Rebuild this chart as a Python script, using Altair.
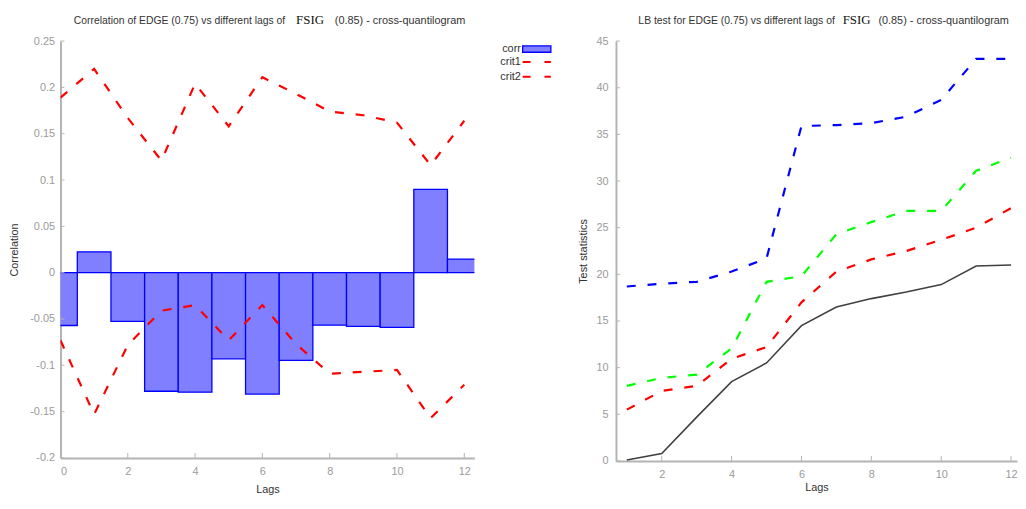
import altair as alt
import pandas as pd

# ---------------- data ----------------
lags_left = list(range(0, 13))
corr = [-0.057, 0.0225, -0.0525, -0.128, -0.129, -0.093, -0.131, -0.0946,
        -0.0567, -0.058, -0.059, 0.090, 0.0147]
crit1 = [0.189, 0.220, 0.167, 0.121, 0.204, 0.158, 0.211, 0.193, 0.174,
         0.170, 0.162, 0.116, 0.164]
crit2 = [-0.073, -0.153, -0.078, -0.041, -0.035, -0.073, -0.035, -0.077,
         -0.109, -0.107, -0.105, -0.157, -0.121]

lags_right = list(range(1, 13))
lb_stat = [0.1, 0.8, 4.7, 8.5, 10.5, 14.5, 16.5, 17.4, 18.1, 18.9, 20.9, 21.0]
cv_red = [5.5, 7.5, 8.05, 10.95, 12.2, 17.0, 20.3, 21.6, 22.5, 23.7, 25.0, 27.1]
cv_green = [8.05, 8.9, 9.25, 12.05, 19.2, 19.8, 24.3, 25.6, 26.8, 26.8, 31.1, 32.5]
cv_blue = [18.7, 19.0, 19.2, 20.3, 21.7, 35.9, 36.0, 36.2, 36.9, 38.7, 43.1, 43.1]

left_yticks = [-0.2, -0.15, -0.1, -0.05, 0, 0.05, 0.1, 0.15, 0.2, 0.25]
left_xticks = [0, 2, 4, 6, 8, 10, 12]
right_yticks = [0, 5, 10, 15, 20, 25, 30, 35, 40, 45]
right_xticks = [2, 4, 6, 8, 10, 12]

left_title = ["Correlation of EDGE (0.75) vs different lags of", "FSIG", "(0.85) - cross-quantilogram"]
right_title = ["LB test for EDGE (0.75) vs different lags of", "FSIG", "(0.85) - cross-quantilogram"]

bar_names = ["corr"]
crit_names = ["crit1", "crit2"]
right_names = ["LB", "cv1", "cv2", "cv3"]

# ---------------- style ----------------
FONT = "Liberation Sans"
SERIF = "Liberation Serif"
AX_COLOR = "#b4b4b4"
LAB_COLOR = "#9a9a9a"
TXT_COLOR = "#333333"
DASH = [9, 12]

LW, LH = 418, 421
RW, RH = 405, 424

# ---------------- left panel ----------------
df_bar = pd.DataFrame({"lag": lags_left, "value": corr, "series": "corr"})
df_crit = pd.concat([
    pd.DataFrame({"lag": lags_left, "value": crit1, "series": "crit1"}),
    pd.DataFrame({"lag": lags_left, "value": crit2, "series": "crit2"}),
])

lx = alt.Scale(domain=[0, 12.3], nice=False, zero=False)
ly = alt.Scale(domain=[-0.2, 0.25], nice=False, zero=False)

x_axis_left = alt.Axis(values=left_xticks, tickSize=0, domainColor=AX_COLOR, domainWidth=2,
                       labelColor=LAB_COLOR, labelFont=FONT, labelFontSize=11,
                       labelPadding=14, labelBaseline="middle", grid=False,
                       title="Lags", titleColor=TXT_COLOR, titleFont=FONT, titleFontSize=11,
                       titleFontWeight="normal", titleY=32, titleBaseline="middle")
y_axis_left = alt.Axis(values=left_yticks, tickSize=0, domainColor=AX_COLOR, domainWidth=2,
                       labelColor=LAB_COLOR, labelFont=FONT, labelFontSize=11,
                       labelPadding=6, grid=False,
                       labelExpr="replace(format(datum.value, '~g'), '\u2212', '-')",
                       title="Correlation", titleColor=TXT_COLOR, titleFont=FONT, titleFontSize=11,
                       titleFontWeight="normal", titleX=-46, titleY=LH / 2, titleBaseline="middle")

legend_common = dict(title=None, orient="none", legendX=466, direction="vertical",
                     symbolSize=100, padding=0, rowPadding=4, labelFont=FONT,
                     labelFontSize=11, labelColor=TXT_COLOR, labelAlign="right",
                     labelOffset={"expr": "-22"}, symbolOffset=9)

bars = alt.Chart(df_bar).transform_calculate(
    x0="datum.lag - 0.5", x1="datum.lag + 0.5"
).mark_bar(stroke="#0000ff", strokeWidth=1.3, clip=True).encode(
    x=alt.X("x0:Q", scale=lx, axis=x_axis_left),
    x2="x1:Q",
    y=alt.Y("value:Q", scale=ly, axis=y_axis_left),
    y2=alt.datum(0),
    fill=alt.Fill("series:N", scale=alt.Scale(domain=bar_names, range=["#7f7fff"]),
                  legend=alt.Legend(legendY=2, symbolType="M-2.85,-0.65H2.85V0.65H-2.85Z",
                                    symbolFillColor="#7f7fff", symbolStrokeColor="#0000ff",
                                    symbolStrokeWidth=1.3, symbolOpacity=1, **legend_common)),
)

crit_lines = alt.Chart(df_crit).mark_line(strokeDash=DASH, strokeWidth=2.2, clip=True).encode(
    x=alt.X("lag:Q", scale=lx),
    y=alt.Y("value:Q", scale=ly),
    stroke=alt.Stroke("series:N", scale=alt.Scale(domain=crit_names, range=["#ff0000", "#ff0000"]),
                      legend=alt.Legend(legendY=15, symbolType="M-2.85,0H2.85",
                                        symbolDash=[8, 14], symbolStrokeWidth=2,
                                        symbolStrokeColor="#ff0000", symbolOpacity=1,
                                        **legend_common)),
)

ly_ticks = alt.Chart(pd.DataFrame({"v": left_yticks})).mark_rule(color=AX_COLOR, strokeWidth=1).encode(
    y=alt.Y("v:Q", scale=ly), x=alt.value(0), x2=alt.value(4))
lx_ticks = alt.Chart(pd.DataFrame({"v": left_xticks})).mark_rule(color=AX_COLOR, strokeWidth=1).encode(
    x=alt.X("v:Q", scale=lx), y=alt.value(LH), y2=alt.value(LH - 5))


def title_layers(parts, W, fs_off, p1_off, p2_off):
    t1 = alt.Chart(pd.DataFrame({"t": [parts[0]]})).mark_text(
        font=FONT, fontSize=10.5, color=TXT_COLOR, align="right", baseline="middle").encode(
        text="t:N", x=alt.value(W / 2 + p1_off), y=alt.value(-20))
    t2 = alt.Chart(pd.DataFrame({"t": [parts[1]]})).mark_text(
        font=SERIF, fontSize=13, color="#111111", align="center", baseline="middle").encode(
        text="t:N", x=alt.value(W / 2 + fs_off), y=alt.value(-21))
    t3 = alt.Chart(pd.DataFrame({"t": [parts[2]]})).mark_text(
        font=FONT, fontSize=11, color=TXT_COLOR, align="left", baseline="middle").encode(
        text="t:N", x=alt.value(W / 2 + p2_off), y=alt.value(-20))
    return [t1, t2, t3]


left = alt.layer(bars, crit_lines, ly_ticks, lx_ticks,
                 *title_layers(left_title, LW, 43, 18, 68)).properties(width=LW, height=LH)

# ---------------- right panel ----------------
df_right = pd.concat([
    pd.DataFrame({"lag": lags_right, "value": lb_stat, "series": "LB"}),
    pd.DataFrame({"lag": lags_right, "value": cv_red, "series": "cv1"}),
    pd.DataFrame({"lag": lags_right, "value": cv_green, "series": "cv2"}),
    pd.DataFrame({"lag": lags_right, "value": cv_blue, "series": "cv3"}),
])

rx = alt.Scale(domain=[0.69, 12.17], nice=False, zero=False)
ry = alt.Scale(domain=[0, 45], nice=False, zero=False)
right_color = alt.Scale(domain=right_names, range=["#404040", "#ff0000", "#00ff00", "#0000ff"])

x_axis_right = alt.Axis(values=right_xticks, tickSize=0, domainColor=AX_COLOR, domainWidth=2,
                        labelColor=LAB_COLOR, labelFont=FONT, labelFontSize=11,
                        labelPadding=14, labelBaseline="middle", grid=False,
                        title="Lags", titleColor=TXT_COLOR, titleFont=FONT, titleFontSize=11,
                        titleFontWeight="normal", titleY=27, titleBaseline="middle")
y_axis_right = alt.Axis(values=right_yticks, tickSize=0, domainColor=AX_COLOR, domainWidth=2,
                        labelColor=LAB_COLOR, labelFont=FONT, labelFontSize=11,
                        labelPadding=8, grid=False,
                        title="Test statistics", titleColor=TXT_COLOR, titleFont=FONT, titleFontSize=11,
                        titleFontWeight="normal", titleX=-33, titleY=RH / 2, titleBaseline="middle")

dashed = alt.Chart(df_right).transform_filter("datum.series != 'LB'").mark_line(
    strokeDash=DASH, strokeWidth=2.2, clip=True).encode(
    x=alt.X("lag:Q", scale=rx, axis=x_axis_right),
    y=alt.Y("value:Q", scale=ry, axis=y_axis_right),
    color=alt.Color("series:N", scale=right_color, legend=None),
)
solid = alt.Chart(df_right).transform_filter("datum.series == 'LB'").mark_line(
    strokeWidth=1.6, clip=True).encode(
    x=alt.X("lag:Q", scale=rx),
    y=alt.Y("value:Q", scale=ry),
    color=alt.Color("series:N", scale=right_color, legend=None),
)
ry_ticks = alt.Chart(pd.DataFrame({"v": right_yticks})).mark_rule(color=AX_COLOR, strokeWidth=1).encode(
    y=alt.Y("v:Q", scale=ry), x=alt.value(0), x2=alt.value(4))
rx_ticks = alt.Chart(pd.DataFrame({"v": right_xticks})).mark_rule(color=AX_COLOR, strokeWidth=1).encode(
    x=alt.X("v:Q", scale=rx), y=alt.value(RH), y2=alt.value(RH - 5))

right = alt.layer(dashed, solid, ry_ticks, rx_ticks,
                  *title_layers(right_title, RW, 40.5, 18.5, 62.5)).properties(width=RW, height=RH)

chart = alt.hconcat(left, right, spacing=22).resolve_scale(
    color="independent", fill="independent", stroke="independent",
    x="independent", y="independent"
).properties(
    padding={"left": 1, "top": 4, "right": 0, "bottom": 0},
    background="white",
).configure_view(stroke=None)

chart.save("out.html", embed_options={"renderer": "svg", "actions": False})
